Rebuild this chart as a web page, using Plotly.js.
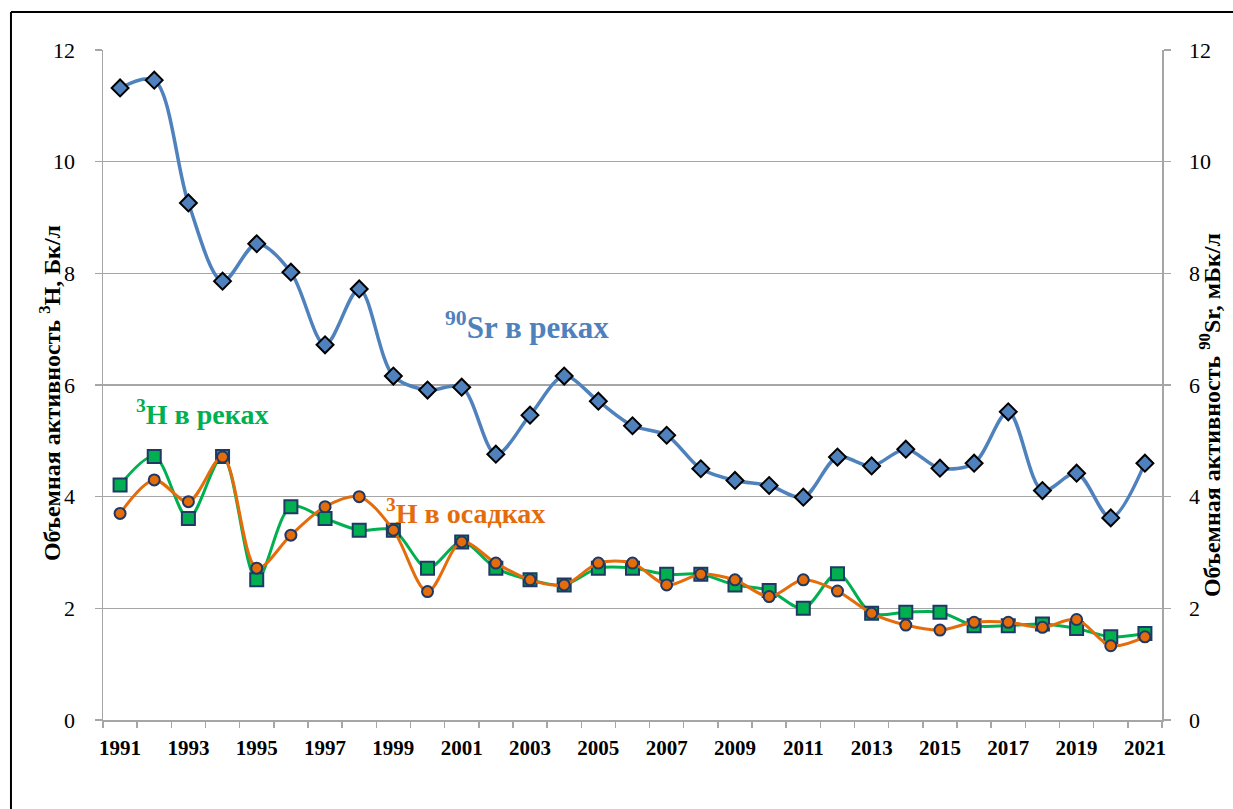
<!DOCTYPE html>
<html>
<head>
<meta charset="utf-8">
<script src="https://cdn.plot.ly/plotly-3.0.1.min.js"></script>
<style>
html,body{margin:0;padding:0;background:#fff;}
#chart{width:1233px;height:809px;}
</style>
</head>
<body>
<div id="chart"></div>
<script>
const years = [1991,1992,1993,1994,1995,1996,1997,1998,1999,2000,2001,2002,2003,2004,2005,2006,2007,2008,2009,2010,2011,2012,2013,2014,2015,2016,2017,2018,2019,2020,2021];
const sr90Rivers = [11.32,11.46,9.26,7.86,8.53,8.02,6.72,7.72,6.16,5.91,5.96,4.76,5.46,6.16,5.71,5.27,5.10,4.50,4.29,4.20,3.99,4.71,4.55,4.85,4.51,4.60,5.52,4.11,4.42,3.62,4.60];
const h3Rivers = [4.21,4.72,3.61,4.72,2.51,3.82,3.61,3.40,3.40,2.72,3.19,2.72,2.51,2.42,2.72,2.72,2.61,2.61,2.42,2.32,2.00,2.62,1.91,1.93,1.93,1.69,1.69,1.72,1.64,1.49,1.55];
const h3Precip = [3.70,4.30,3.91,4.71,2.72,3.31,3.82,4.00,3.40,2.30,3.19,2.81,2.51,2.42,2.81,2.81,2.42,2.61,2.51,2.21,2.51,2.31,1.91,1.70,1.61,1.75,1.75,1.66,1.80,1.33,1.49];
const yTicks = [0,2,4,6,8,10,12];
const xLabelYears = [1991,1993,1995,1997,1999,2001,2003,2005,2007,2009,2011,2013,2015,2017,2019,2021];

const navy = '#1F3864';
const traces = [
  {x: years, y: h3Rivers, yaxis: 'y', type: 'scatter', mode: 'lines+markers', name: '3H в реках',
   line: {color: '#00B050', width: 3, shape: 'spline', smoothing: 0.9},
   marker: {symbol: 'square', size: 13, color: '#00B050', line: {color: navy, width: 2}}},
  {x: years, y: h3Precip, yaxis: 'y', type: 'scatter', mode: 'lines+markers', name: '3H в осадках',
   line: {color: '#E46C0A', width: 3, shape: 'spline', smoothing: 0.9},
   marker: {symbol: 'circle', size: 11, color: '#E46C0A', line: {color: navy, width: 2}}},
  {x: years, y: sr90Rivers, yaxis: 'y2', type: 'scatter', mode: 'lines+markers', name: '90Sr в реках',
   line: {color: '#4F81BD', width: 3.5, shape: 'spline', smoothing: 0.9},
   marker: {symbol: 'diamond', size: 13, color: '#4F81BD', line: {color: '#000000', width: 2}}}
];

const serif = 'Times New Roman, Liberation Serif, DejaVu Serif, serif';
const layout = {
  width: 1233, height: 809,
  margin: {l: 103, r: 71, t: 50, b: 89},
  paper_bgcolor: '#ffffff', plot_bgcolor: '#ffffff',
  showlegend: false,
  font: {family: serif, color: '#000'},
  xaxis: {
    range: [1990.5, 2021.5], showgrid: false, zeroline: false,
    tickvals: xLabelYears, ticktext: xLabelYears.map(String), ticks: '',
    tickfont: {family: serif, size: 21, color: '#000', weight: 'bold'},
    ticklabelstandoff: 8,
    showline: true, linecolor: '#A6A6A6', linewidth: 1.5,
    minor: {tick0: 1990.5, dtick: 1, ticks: 'outside', ticklen: 6, tickcolor: '#A6A6A6', tickwidth: 1.5, showgrid: false}
  },
  yaxis: {
    range: [0, 12], tickvals: yTicks, ticks: 'outside', ticklen: 7, tickcolor: '#A6A6A6', tickwidth: 1.5,
    showline: true, linecolor: '#A6A6A6', linewidth: 1.5,
    showgrid: true, gridcolor: '#A6A6A6', gridwidth: 1.2, zeroline: false,
    tickfont: {family: serif, size: 22, color: '#000'}, ticklabelstandoff: 15
  },
  yaxis2: {
    range: [0, 12], tickvals: yTicks, overlaying: 'y', side: 'right', ticks: 'outside', ticklen: 7, tickcolor: '#A6A6A6', tickwidth: 1.5,
    showline: true, linecolor: '#A6A6A6', linewidth: 1.5, showgrid: false, zeroline: false,
    tickfont: {family: serif, size: 22, color: '#000'}, ticklabelstandoff: 14
  },
  annotations: [
    {x: -0.05, y: 0.488, xref: 'paper', yref: 'paper', textangle: -90, xanchor: 'center', yanchor: 'middle',
     text: 'Объемная активность <sup>3</sup>H, Бк/л', showarrow: false,
     font: {family: serif, size: 24, color: '#000', weight: 'bold'}},
    {x: 1.0453, y: 0.455, xref: 'paper', yref: 'paper', textangle: -90, xanchor: 'center', yanchor: 'middle',
     text: 'Объемная активность <sup>90</sup>Sr, мБк/л', showarrow: false,
     font: {family: serif, size: 24, color: '#000', weight: 'bold'}},
    {x: 2002.9, y: 7.07, xref: 'x', yref: 'y', text: '<sup>90</sup>Sr в реках', showarrow: false,
     font: {family: serif, size: 31, color: '#4F81BD', weight: 'bold'}},
    {x: 1993.4, y: 5.5, xref: 'x', yref: 'y', text: '<sup>3</sup>H в реках', showarrow: false,
     font: {family: serif, size: 28, color: '#00B050', weight: 'bold'}},
    {x: 2001.1, y: 3.73, xref: 'x', yref: 'y', text: '<sup>3</sup>H в осадках', showarrow: false,
     font: {family: serif, size: 28, color: '#E46C0A', weight: 'bold'}}
  ],
  shapes: [
    {type: 'line', xref: 'paper', yref: 'paper', x0: -0.0869, x1: -0.0869, y0: 1.0567, y1: -0.14, line: {color: '#000', width: 2}},
    {type: 'line', xref: 'paper', yref: 'paper', x0: -0.0869, x1: 1.07, y0: 1.0567, y1: 1.0567, line: {color: '#000', width: 2}}
  ]
};

Plotly.newPlot('chart', traces, layout, {displayModeBar: false, staticPlot: true});
</script>
</body>
</html>
